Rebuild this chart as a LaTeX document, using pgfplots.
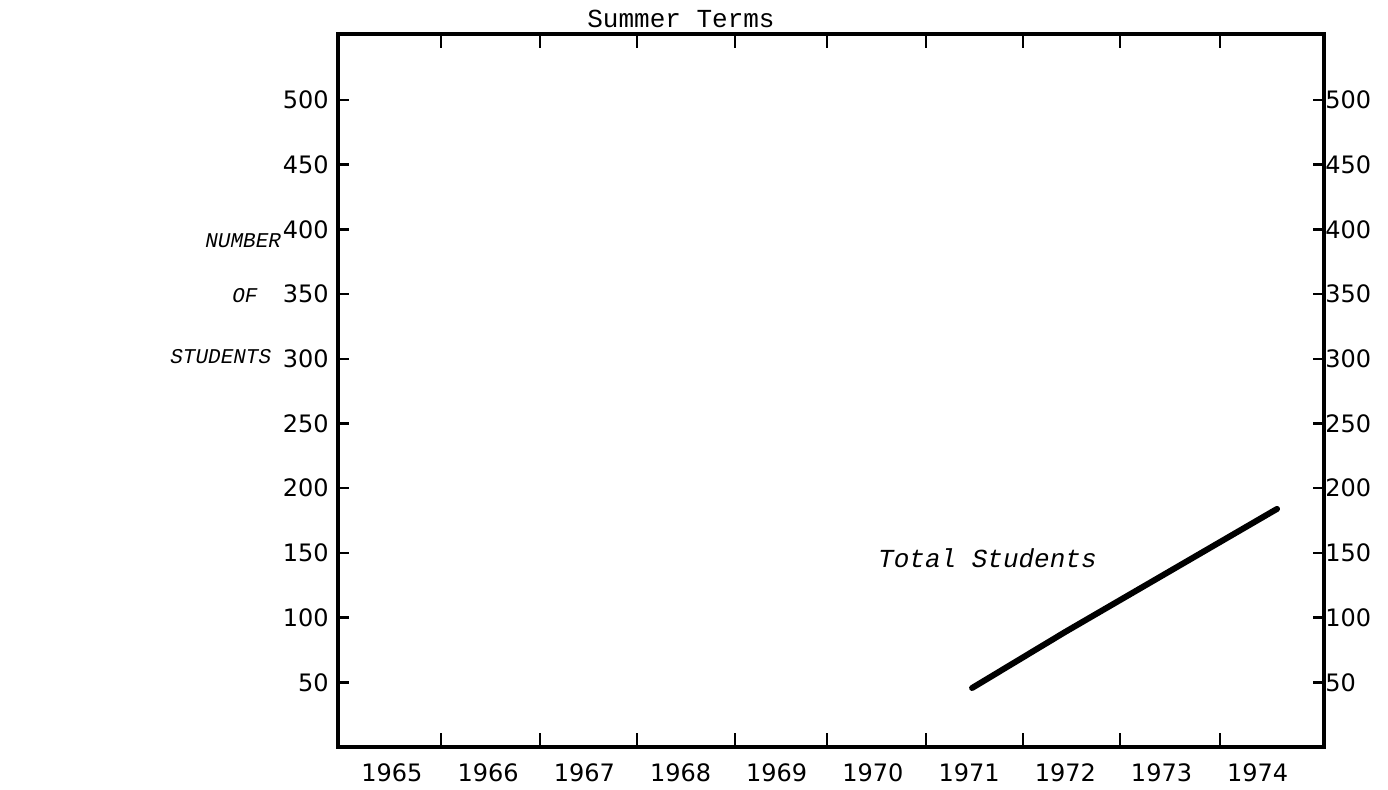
\documentclass[border=0pt]{standalone}
\usepackage{fontspec}
\usepackage{pgfplots}
\pgfplotsset{compat=1.18}
\setmainfont{DejaVu Sans}
\newfontfamily\tw{Liberation Mono}
\newfontfamily\num{DejaVu Sans}
\begin{document}
\begin{tikzpicture}
\pgfplotsset{
  common/.style={
    scale only axis, width=493pt, height=356.5pt,
    at={(0,0)}, anchor=south west,
    xmin=1964.439, xmax=1974.688, ymin=0, ymax=551,
    ytick={50,100,...,500},
    tick align=inside,
    major tick length=5.5pt,
    /pgf/number format/assume math mode=true,
    tick label style={font=\num\fontsize{12}{14}\selectfont},
    every tick/.style={black, line width=1.2pt},
    axis line style={line width=1.6pt},
  }
}
\begin{axis}[common,
  clip=false,
  xtick={1965,...,1974},
  xticklabels={1965,1966,1967,1968,1969,1970,1971,1972,1973,1974},
  major x tick style={draw=none},
  minor xtick={1965.509,1966.538,1967.547,1968.566,1969.522,1970.551,1971.559,1972.568,1973.607},
  minor tick length=7pt,
  minor x tick style={black, line width=1.2pt},
  xticklabel style={anchor=north, inner sep=0pt, yshift=-8pt},
  yticklabel pos=left,
  yticklabel style={anchor=east, inner sep=0pt, xshift=-4.5pt},
]
\addplot[black, line width=3pt, line cap=round] coordinates {
  (1971.03,45.6) (1972.0,89) (1974.20,184)
};
\node[anchor=base west, inner sep=0pt, font=\tw\fontsize{13}{15}\selectfont] at ([yshift=3.5pt]rel axis cs:0.2525,1) {Summer Terms};
\node[anchor=base west, inner sep=0pt, font=\tw\itshape\fontsize{13}{15}\selectfont] at (axis cs:1970.05,139) {Total Students};
\node[anchor=west, inner sep=0pt, font=\tw\itshape\fontsize{10.5}{12}\selectfont] at ([xshift=-66.5pt]axis cs:1964.439,391) {NUMBER};
\node[anchor=west, inner sep=0pt, font=\tw\itshape\fontsize{10.5}{12}\selectfont] at ([xshift=-53pt]axis cs:1964.439,348.5) {OF};
\node[anchor=west, inner sep=0pt, font=\tw\itshape\fontsize{10.5}{12}\selectfont] at ([xshift=-84pt]axis cs:1964.439,302) {STUDENTS};
\end{axis}
\begin{axis}[common,
  axis x line=none,
  axis y line*=right,
  yticklabel pos=right,
  yticklabel style={anchor=west, inner sep=0pt, xshift=0.5pt},
]
\end{axis}
\pgfresetboundingbox
\path (-169pt,-21pt) rectangle (525pt,373.5pt);
\end{tikzpicture}
\end{document}
